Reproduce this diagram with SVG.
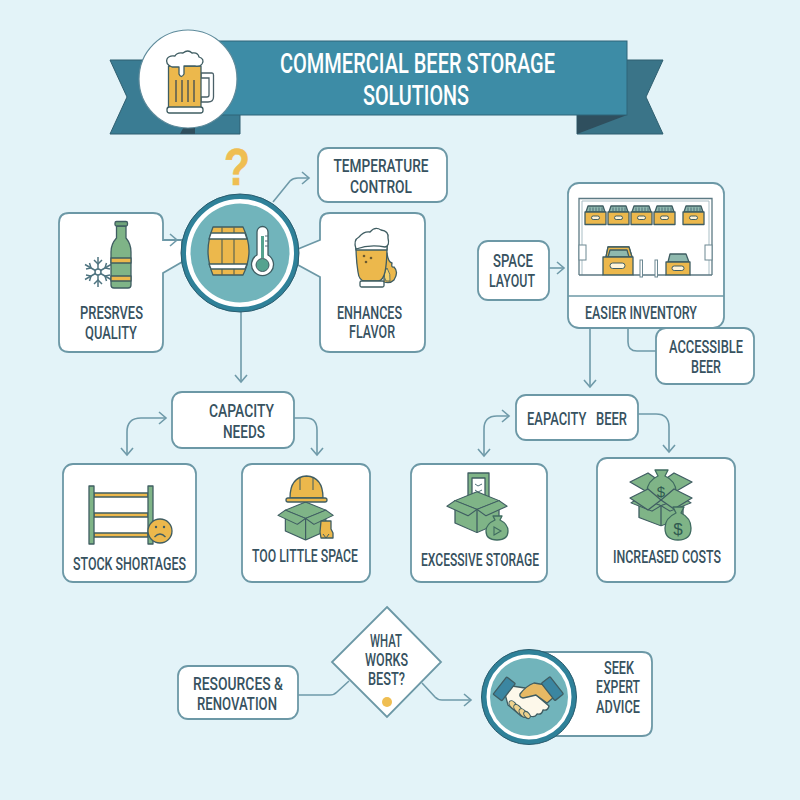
<svg xmlns="http://www.w3.org/2000/svg" width="800" height="800" viewBox="0 0 800 800">
<style>
.box{fill:#fff;stroke:#6c98a6;stroke-width:1.8}
.c{fill:none;stroke:#6f9aa9;stroke-width:1.6}
.ca{fill:none;stroke:#6f9aa9;stroke-width:1.6;marker-end:url(#ah)}
.cb{fill:none;stroke:#6f9aa9;stroke-width:1.6;marker-start:url(#ah);marker-end:url(#ah)}
.t{font-family:Roboto,"Liberation Sans",sans-serif;font-size:18px;font-weight:500;fill:#37525f}
.tt{font-family:Roboto,"Liberation Sans",sans-serif;font-size:28px;font-weight:500;fill:#fff}
.ic{stroke:#3f5d62;stroke-width:1.3;stroke-linejoin:round}
.g{fill:#ecb84c}.gr{fill:#7fb487}.w{fill:#fff}
.bag{fill:#7fb487;stroke:#3f6b60;stroke-width:1.3;stroke-linejoin:round}
</style>
<defs>
<marker id="ah" markerUnits="userSpaceOnUse" markerWidth="18" markerHeight="18" refX="9" refY="9" orient="auto-start-reverse">
<path d="M2 3 L9 9 L2 15" fill="none" stroke="#6f9aa9" stroke-width="1.6"/>
</marker>
<g id="crate">
<path class="ic" d="M1 6 L3 0 H18 L20 6Z" fill="#8fb9ae"/>
<path d="M5 1.500V5M8 1.500V5M11 1.500V5M14 1.500V5M17 1.500V5" stroke="#4f6f78" stroke-width="1"/>
<rect class="ic g" x="0" y="6" width="21" height="12.500"/>
<rect x="6.500" y="10" width="8" height="3.500" rx="1.700" fill="#fff4d8" stroke="#3f5d62" stroke-width="1"/>
</g>
<g id="openbox">
<path class="ic gr" d="M8 17 L30 28 L52 17 V45 L30 57 L8 45Z"/>
<path class="ic" d="M30 28V57" fill="none"/>
<path class="ic gr" d="M8 17 L30 6 L52 17 L30 28Z"/>
<path class="ic gr" d="M8 17 L0 24 L21 36 L30 28Z"/>
<path class="ic gr" d="M52 17 L60 24 L39 36 L30 28Z"/>
</g>
</defs>
<rect id="bg" width="800" height="800" fill="#e3f3f8"/>

<g id="connectors">
<path class="ca" d="M273 202 L290 181 Q293 178 298 178 H309"/>
<path class="ca" d="M241 312 V382"/>
<path class="ca" d="M549 268 H564"/>
<path class="ca" d="M590 328 V387"/>
<path class="c" d="M628 328 V342 Q628 351 637 351 H656"/>
<path class="cb" d="M166 418 H141 Q127 418 127 432 V455"/>
<path class="ca" d="M294 418 H306 Q317 418 317 430 V455"/>
<path class="cb" d="M509 416 H497 Q484 416 484 429 V456"/>
<path class="ca" d="M638 414 H656 Q669 414 669 427 V452"/>
<path class="c" d="M298 695 H330 Q334 695 337 692 L349 681"/>
<path class="ca" d="M422 683 L435 697 Q438 700 442 700 H471"/>
</g>

<g id="banner">
<path d="M110 60 H240 V134 H110 L127 97Z" fill="#3a7c93" stroke="#2f5f70" stroke-width="1"/>
<path d="M590 60 H663 L646 97 L663 134 H577 V100Z" fill="#3a7488" stroke="#2f5f70" stroke-width="1"/>
<path d="M577 115 V134 L627 115Z" fill="#2f4f5e"/>
<path d="M190 115 H195 V134 H180Z" fill="#2f4f5e"/>
<rect x="200" y="41" width="427" height="74" fill="#3d8ca6" stroke="#2f6578" stroke-width="1"/>
<circle cx="188" cy="79" r="49" fill="#fff" stroke="#5f8b9b" stroke-width="1.200"/>
<g id="mug">
<path d="M201 73 H212 Q213.500 73 213.500 75 V97 Q213.500 102 208 102 H201 V97 H207 Q209 97 209 95 V78 H201Z" fill="#fff" stroke="#4a6068" stroke-width="1.300"/>
<rect class="ic g" x="168.500" y="66" width="32.500" height="42"/>
<path d="M176 80V102M182 80V102M188 80V102M194 80V102" stroke="#6e6a52" stroke-width="1.800"/>
<path class="ic w" d="M172 67 Q165 64 167 59 Q169 55 175 56 Q177 52 183 53 Q188 49 192 53 Q198 52 199 57 Q205 59 202 64 Q200 67 195 66 H184 V74 Q181 79 179 74 V67Z"/>
<rect class="ic w" x="167" y="107" width="36" height="6" rx="2.500"/>
</g>
<text class="tt" x="417.500" y="73" text-anchor="middle" textLength="275" lengthAdjust="spacingAndGlyphs">COMMERCIAL BEER STORAGE</text>
<text class="tt" x="416" y="105" text-anchor="middle" textLength="106" lengthAdjust="spacingAndGlyphs">SOLUTIONS</text>
</g>

<g id="node-question">
<text x="237" y="185" text-anchor="middle" textLength="26" lengthAdjust="spacingAndGlyphs" font-family="Liberation Sans, sans-serif" font-weight="700" font-size="52" fill="#efbe52" stroke="#efbe52" stroke-width=".6">?</text>
</g>

<g id="node-temperature">
<rect class="box" x="318" y="148" width="129" height="54" rx="10"/>
<text class="t" x="381" y="172" text-anchor="middle" textLength="95" lengthAdjust="spacingAndGlyphs">TEMPERATURE</text>
<text class="t" x="381" y="193" text-anchor="middle" textLength="62" lengthAdjust="spacingAndGlyphs">CONTROL</text>
</g>

<g id="node-preserves">
<path class="box" d="M69 213 H153 Q163 213 163 223 V240 H182 V262 L163 273 V342 Q163 352 153 352 H69 Q59 352 59 342 V223 Q59 213 69 213Z"/>
<path d="M163 240 H177" class="c" marker-end="url(#ah)"/>
<g id="snowflake" stroke="#4f7480" stroke-width="1.500" fill="none">
<path d="M98 257V287M85 264.500L111 279.500M85 279.500L111 264.500"/>
<path d="M94 260L98 264L102 260M94 284L98 280L102 284M86 269L91 268L89.500 263M110 269L105 268L106.500 263M86 275L91 276L89.500 281M110 275L105 276L106.500 281"/>
<circle cx="98" cy="272" r="3" fill="#fff"/>
</g>
<path class="ic gr" d="M116.500 226 H126 V238 Q131 244 131 252 V285 Q131 288 128 288 H114 Q111 288 111 285 V252 Q111 244 116.500 238Z"/>
<rect class="ic" x="115" y="221.500" width="12.500" height="4.500" rx="1.500" fill="#6fa47a"/>
<rect class="ic g" x="111" y="258" width="20" height="5"/>
<rect class="ic g" x="111" y="276" width="20" height="5"/>
<text class="t" x="111.500" y="319" text-anchor="middle" textLength="63" lengthAdjust="spacingAndGlyphs">PRESRVES</text>
<text class="t" x="111" y="339" text-anchor="middle" textLength="52" lengthAdjust="spacingAndGlyphs">QUALITY</text>
</g>

<g id="node-flavor">
<path class="box" d="M330 213 H415 Q425 213 425 223 V342 Q425 352 415 352 H330 Q320 352 320 342 V277 L298 265 V249 L320 240 V223 Q320 213 330 213Z"/>
<path class="ic g" d="M384 262 Q385 254 387 253 Q388 262 392 263 Q391 268 394 267 Q399 272 394 280 Q390 284 384 282Z"/>
<path d="M386 281 Q382 274 387 268 Q391 274 390 281Z" fill="#f4d26e" stroke="#3f5d62" stroke-width=".8"/>
<path class="ic" d="M356 246 H387 Q387 262 385 272 Q383 281 378 281 H365 Q359 281 358 272 Q356 260 356 246Z" fill="#ecb84c"/>
<rect class="ic" x="356" y="244" width="31" height="6" fill="#fff"/>
<rect class="ic w" x="360" y="281" width="24" height="6" rx="1.500"/>
<path class="ic w" d="M356 249 Q353 240 359 237 Q364 231 370 232 Q375 226 381 230 Q389 231 388 238 Q390 246 385 247 Q370 244 356 249Z"/>
<circle cx="364" cy="256" r="1.300" fill="#6b5a30"/><circle cx="371" cy="258" r="1.300" fill="#6b5a30"/><circle cx="366" cy="262" r="1.300" fill="#6b5a30"/>
<text class="t" x="369.500" y="319" text-anchor="middle" textLength="65" lengthAdjust="spacingAndGlyphs">ENHANCES</text>
<text class="t" x="372" y="338" text-anchor="middle" textLength="46" lengthAdjust="spacingAndGlyphs">FLAVOR</text>
</g>

<g id="node-center">
<circle cx="240" cy="253" r="56.500" fill="#fff" stroke="#2f8199" stroke-width="5"/>
<circle cx="240" cy="253" r="59" fill="none" stroke="#2b5c6e" stroke-width="1"/>
<circle cx="240" cy="253" r="49.500" fill="#71b4bb"/>
<path class="ic g" d="M213 227 H243 Q249 240 249 251 Q249 263 243 275 H213 Q208 263 208 251 Q208 240 213 227Z"/>
<path d="M222 227 V275 M234 227 V275" stroke="#5d6650" stroke-width="1.200"/>
<path class="ic w" d="M211 233 H245 L247 239 H209Z"/>
<path class="ic w" d="M209 264 H247 L245 269 H211Z"/>
<path class="ic w" d="M257 232 A5.500 5.500 0 0 1 268 232 V255 A11 11 0 1 1 257 255Z"/>
<rect x="261" y="236" width="3" height="22" fill="#55a38f"/>
<path d="M268 236h-3M268 241h-3M268 246h-3" stroke="#4f6f78" stroke-width="1"/>
<circle cx="262.500" cy="265" r="6.500" fill="#55a38f" stroke="#3f5d62" stroke-width="1"/>
</g>

<g id="node-layout">
<rect class="box" x="478" y="241" width="71" height="59" rx="10"/>
<text class="t" x="513" y="267" text-anchor="middle" textLength="40" lengthAdjust="spacingAndGlyphs">SPACE</text>
<text class="t" x="512" y="287" text-anchor="middle" textLength="46" lengthAdjust="spacingAndGlyphs">LAYOUT</text>
</g>

<g id="node-inventory">
<rect class="box" x="568" y="183" width="156" height="145" rx="11"/>
<path d="M568 296 H724" stroke="#6c98a6" stroke-width="1.600"/>
<path d="M579 275 V198.500 H712 V275" fill="none" stroke="#5d7a84" stroke-width="1.300"/>
<path d="M582 275 V201 H709 V275" fill="none" stroke="#a9bec5" stroke-width="1"/>
<path d="M579 275 H603 M633 275 H666 M690 275 H712" stroke="#5d7a84" stroke-width="1.300"/>
<rect x="579" y="245" width="7" height="15" fill="#fff" stroke="#6c8892"/>
<rect x="705" y="245" width="7" height="15" fill="#fff" stroke="#6c8892"/>
<rect x="640" y="260" width="2.500" height="17" fill="#fff" stroke="#6c8892"/>
<rect x="655" y="260" width="2.500" height="17" fill="#fff" stroke="#6c8892"/>
<use href="#crate" x="585" y="206"/>
<use href="#crate" x="608" y="206"/>
<use href="#crate" x="631" y="206"/>
<use href="#crate" x="654" y="206"/>
<use href="#crate" x="683" y="206"/>
<g id="crate-large">
<path class="ic" d="M606 257 L608 247 H629 L632 257Z" fill="#8fb9ae"/>
<path class="ic g" d="M606 257 L608 247 H629 L632 257 H629 L627 250 H610 L608 257Z"/>
<rect class="ic g" x="603" y="257" width="30" height="18"/>
<rect x="610" y="263" width="15" height="5.500" rx="2.700" fill="#fff4d8" stroke="#3f5d62" stroke-width="1"/>
</g>
<g id="crate-small">
<path class="ic" d="M668 262 L670 254 H686 L689 262Z" fill="#8fb9ae"/>
<rect class="ic g" x="666" y="262" width="24" height="13"/>
<rect x="672" y="266" width="12" height="4.500" rx="2.200" fill="#fff4d8" stroke="#3f5d62" stroke-width="1"/>
</g>
<text class="t" x="641" y="319" text-anchor="middle" textLength="112" lengthAdjust="spacingAndGlyphs">EASIER INVENTORY</text>
</g>

<g id="node-accessible">
<rect class="box" x="656" y="328" width="98" height="56" rx="10"/>
<text class="t" x="706" y="353" text-anchor="middle" textLength="74" lengthAdjust="spacingAndGlyphs">ACCESSIBLE</text>
<text class="t" x="706" y="373" text-anchor="middle" textLength="30" lengthAdjust="spacingAndGlyphs">BEER</text>
</g>

<g id="node-capacity">
<rect class="box" x="172" y="392" width="122" height="56" rx="10"/>
<text class="t" x="241.500" y="417" text-anchor="middle" textLength="65" lengthAdjust="spacingAndGlyphs">CAPACITY</text>
<text class="t" x="244" y="438" text-anchor="middle" textLength="42" lengthAdjust="spacingAndGlyphs">NEEDS</text>
</g>

<g id="node-shortages">
<rect class="box" x="63" y="464" width="133" height="118" rx="10"/>
<rect class="ic g" x="94" y="493" width="54" height="4"/>
<rect class="ic g" x="94" y="513" width="54" height="4"/>
<rect class="ic g" x="94" y="533" width="54" height="4"/>
<rect class="ic gr" x="89" y="486" width="5" height="58"/>
<rect class="ic gr" x="148" y="486" width="5" height="58"/>
<circle class="ic g" cx="160" cy="531" r="12"/>
<circle cx="156" cy="527" r="1.200" fill="#3f5d62"/><circle cx="164" cy="527" r="1.200" fill="#3f5d62"/>
<path d="M154.500 537 Q160 531 165.500 537" fill="none" stroke="#3f5d62" stroke-width="1.300"/>
<text class="t" x="129.500" y="570" text-anchor="middle" textLength="113" lengthAdjust="spacingAndGlyphs">STOCK SHORTAGES</text>
</g>

<g id="node-space">
<rect class="box" x="242" y="464" width="128" height="118" rx="10"/>
<use href="#openbox" transform="translate(278 497.500) scale(.92 .745)"/>
<path class="ic g" d="M290 498 Q290 477 306.500 476 Q323 477 323 498Z"/>
<path d="M300 478 V490 M313 478 V490" stroke="#3f5d62" stroke-width="1"/>
<rect class="ic g" x="286" y="498" width="41" height="4" rx="2"/>
<path class="ic g" d="M321 521 H331 V529 L333 533 V538 H321 L320 532 Z"/>
<path d="M323 534 L326 538 M329 534 L326 538" stroke="#3f5d62" stroke-width="1"/>
<text class="t" x="305" y="562" text-anchor="middle" textLength="106" lengthAdjust="spacingAndGlyphs">TOO LITTLE SPACE</text>
</g>

<g id="node-eapacity">
<rect class="box" x="516" y="395" width="122" height="45" rx="10"/>
<text class="t" x="577" y="425" text-anchor="middle" textLength="100" lengthAdjust="spacingAndGlyphs" xml:space="preserve">EAPACITY   BEER</text>
</g>

<g id="node-excessive">
<rect class="box" x="411" y="464" width="136" height="118" rx="10"/>
<path class="ic gr" d="M468 473 H489 V502 H468Z"/>
<rect class="ic w" x="472" y="478" width="13" height="24"/>
<path d="M475 484 L478 486 L482 484 M475 490 L478 492 L482 490" fill="none" stroke="#4f6f78" stroke-width="1"/>
<use href="#openbox" transform="translate(447 487) scale(1 .8)"/>
<path class="bag" d="M493 516 H502 L500 520 Q508 524 508 531 Q508 540 497 540 Q486 540 486 531 Q486 524 495 520Z"/>
<path d="M494 527 L501 531 L494 535Z" fill="none" stroke="#3f6b60" stroke-width="1.100"/>
<text class="t" x="480" y="566" text-anchor="middle" textLength="118" lengthAdjust="spacingAndGlyphs">EXCESSIVE STORAGE</text>
</g>

<g id="node-costs">
<rect class="box" x="597" y="458" width="138" height="124" rx="10"/>
<use href="#openbox" transform="translate(631 486) scale(1 .7)"/>
<path class="ic gr" d="M630 482 L648 473 L661 482 L674 473 L692 482 L661 500Z"/>
<path class="bag" d="M655 470 H668 L665 476 Q676 481 676 492 Q676 500 661 500 Q647 500 647 492 Q647 481 658 476Z"/>
<text x="661" y="497" text-anchor="middle" font-family="Liberation Sans, sans-serif" font-size="15" fill="#2f5a50">$</text>
<path class="ic gr" d="M630 498 L648 489 L661 500 L674 489 L692 498 L674 509 L661 500 L648 510Z"/>
<path class="bag" d="M673 507 H684 L681 513 Q691 518 691 528 Q691 540 678 540 Q665 540 665 528 Q665 518 676 513Z"/>
<text x="678" y="535" text-anchor="middle" font-family="Liberation Sans, sans-serif" font-size="17" fill="#2f5a50">$</text>
<text class="t" x="667" y="563" text-anchor="middle" textLength="108" lengthAdjust="spacingAndGlyphs">INCREASED COSTS</text>
</g>

<g id="node-resources">
<rect class="box" x="178" y="666" width="120" height="53" rx="10"/>
<text class="t" x="238" y="690" text-anchor="middle" textLength="90" lengthAdjust="spacingAndGlyphs">RESOURCES &amp;</text>
<text class="t" x="237" y="710" text-anchor="middle" textLength="80" lengthAdjust="spacingAndGlyphs">RENOVATION</text>
</g>

<g id="node-decision">
<path class="box" d="M387 607 L441 662 L387 717 L332 662Z"/>
<text class="t" x="386" y="647" text-anchor="middle" textLength="32" lengthAdjust="spacingAndGlyphs">WHAT</text>
<text class="t" x="386.500" y="666" text-anchor="middle" textLength="43" lengthAdjust="spacingAndGlyphs">WORKS</text>
<text class="t" x="386.500" y="685" text-anchor="middle" textLength="37" lengthAdjust="spacingAndGlyphs">BEST?</text>
<circle cx="387" cy="702" r="5" fill="#efbe52"/>
</g>

<g id="node-expert">
<path class="box" d="M530 652 H642 Q652 652 652 662 V726 Q652 736 642 736 H530Z"/>
<circle cx="529" cy="697" r="45" fill="#fff" stroke="#2f8199" stroke-width="5"/>
<circle cx="529" cy="697" r="47.500" fill="none" stroke="#2b5c6e" stroke-width="1"/>
<circle cx="529" cy="697" r="39" fill="#71b4bb"/>
<path class="ic" fill="#fdf8ea" d="M512 686 L525 688 L536 695 L549 706 Q548 711 543 710 Q542 715 537 714 Q535 718 530 716 Q527 719 521 716 L508 705 L505 694Z"/>
<path class="ic" fill="#e6b964" d="M520 694 Q526 686 534 683 L546 685 L554 697 L547 703 L536 695 Q528 697 523 698 Q519 697 520 694Z"/>
<rect class="ic" x="498" y="680" width="11" height="22" rx="1" fill="#3b86a1" transform="rotate(38 507 691)"/>
<rect class="ic" x="547" y="678" width="11" height="22" rx="1" fill="#3b86a1" transform="rotate(-38 552 689)"/>
<g fill="#efd28d" stroke="#3f5d62" stroke-width="1">
<ellipse cx="513" cy="705" rx="3" ry="5" transform="rotate(-40 513 705)"/>
<ellipse cx="518" cy="709" rx="3" ry="5.500" transform="rotate(-40 518 709)"/>
<ellipse cx="523" cy="713" rx="3" ry="5" transform="rotate(-40 523 713)"/>
<ellipse cx="527" cy="715" rx="2.500" ry="4" transform="rotate(-40 527 715)"/>
</g>
<text class="t" x="619" y="674" text-anchor="middle" textLength="30" lengthAdjust="spacingAndGlyphs">SEEK</text>
<text class="t" x="618" y="693" text-anchor="middle" textLength="44" lengthAdjust="spacingAndGlyphs">EXPERT</text>
<text class="t" x="618" y="713" text-anchor="middle" textLength="44" lengthAdjust="spacingAndGlyphs">ADVICE</text>
</g>
</svg>
